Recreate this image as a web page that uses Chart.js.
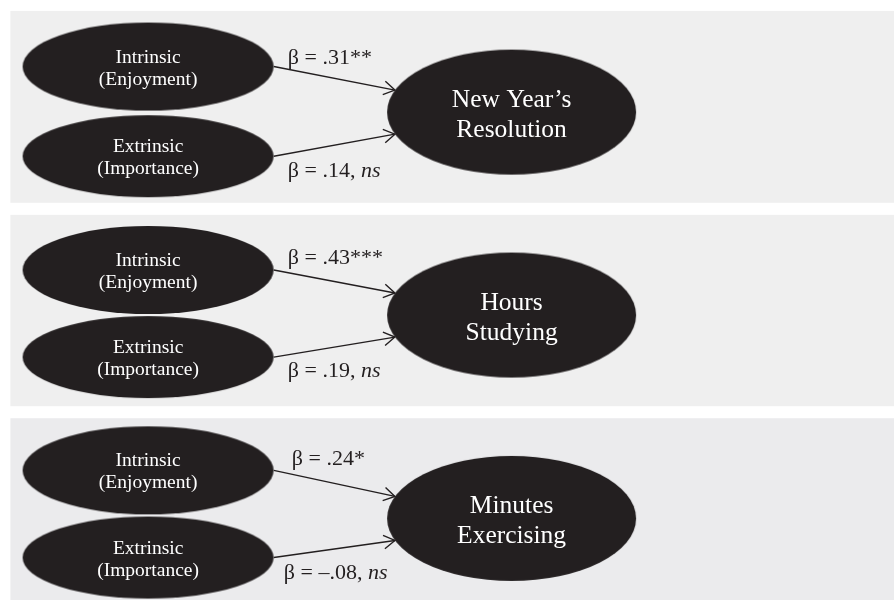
<!DOCTYPE html>
<html>
<head>
<meta charset="utf-8">
<script src="https://cdn.jsdelivr.net/npm/chart.js@4"></script>
<style>
  html, body { margin: 0; padding: 0; background: #fff; }
  canvas { display: block; }
</style>
</head>
<body>
<canvas id="paths" width="894" height="600"></canvas>
<script>
// model data: one panel per outcome, two predictors each
const outcomes = [["New Year’s", "Resolution"], ["Hours", "Studying"], ["Minutes", "Exercising"]];
const predictors = [["Intrinsic", "(Enjoyment)"], ["Extrinsic", "(Importance)"]];
const intrinsicBeta = [0.31, 0.43, 0.24];
const extrinsicBeta = [0.14, 0.19, -0.08];
const intrinsicSig = ["**", "***", "*"];
const extrinsicSig = ["ns", "ns", "ns"];

// layout, in scale units (1 unit = 1 px)
const panelTop = [11.5, 215, 418];
const panelBottom = [203, 406, 600];
const panelFill = ["#efefef", "#efefef", "#ebebed"];
const predX = 148.5, outX = 511.5;
const nodeY = [[67, 156.5], [270, 357], [470, 557]];
const outY = [112.5, 315, 518];
const arrowFromX = 274, arrowToX = 395, arrowSpread = 22;
const labelX = [[288, 288], [288, 288], [292, 284]];
const labelY = [[64, 177], [264, 377], [465, 578]];

const ink = "#231f20";
const serif = "'Liberation Serif', 'Times New Roman', serif";
const lineW = 1.4;
const edge = lineW / 2;   // chart area inset caused by the arrow line width

function ellipseImage(rx, ry) {
  const c = document.createElement('canvas');
  c.width = Math.round(rx * 2) + 2;
  c.height = Math.round(ry * 2) + 2;
  const g = c.getContext('2d');
  g.fillStyle = ink;
  g.beginPath();
  g.ellipse(c.width / 2, c.height / 2, rx, ry, 0, 0, Math.PI * 2);
  g.fill();
  return c;
}
const predImgs = [ellipseImage(125.5, 44), ellipseImage(125.5, 41)];
const outImg = ellipseImage(124.5, 62.5);

function fmtBeta(b) {
  const s = '.' + String(Math.round(Math.abs(b) * 100)).padStart(2, '0');
  return (b < 0 ? '–' : '') + s;
}

const betas = [intrinsicBeta, extrinsicBeta];
const sigs = [intrinsicSig, extrinsicSig];

const predictorPoints = [];
const outcomePoints = [];
const arrowSets = [];
for (let p = 0; p < outcomes.length; p++) {
  outcomePoints.push({ x: outX, y: outY[p] });
  for (let r = 0; r < predictors.length; r++) {
    predictorPoints.push({ x: predX, y: nodeY[p][r] });
    arrowSets.push({
      type: 'scatter',
      showLine: true,
      data: [
        { x: arrowFromX, y: nodeY[p][r] },
        { x: arrowToX, y: outY[p] + (r === 0 ? -arrowSpread : arrowSpread) }
      ],
      borderColor: ink,
      borderWidth: lineW,
      pointRadius: 0,
      panel: p,
      role: r
    });
  }
}

const panelsPlugin = {
  id: 'panels',
  beforeDatasetsDraw(chart) {
    const { ctx, scales: { x, y } } = chart;
    ctx.save();
    panelTop.forEach((t, i) => {
      ctx.fillStyle = panelFill[i];
      const x0 = x.getPixelForValue(11), x1 = chart.width;
      const y0 = y.getPixelForValue(t);
      const y1 = i === panelTop.length - 1 ? chart.height : y.getPixelForValue(panelBottom[i]);
      ctx.fillRect(x0, y0, x1 - x0, y1 - y0);
    });
    ctx.restore();
  },
  afterDatasetsDraw(chart) {
    const { ctx, scales: { x, y } } = chart;
    ctx.save();

    // arrowheads and path coefficients
    chart.data.datasets.forEach((ds, i) => {
      if (ds.panel === undefined) return;
      const pts = chart.getDatasetMeta(i).data;
      const a = pts[0], b = pts[1];
      const ang = Math.atan2(b.y - a.y, b.x - a.x);
      const len = 13, spread = 0.55;
      ctx.strokeStyle = ink;
      ctx.lineWidth = lineW;
      ctx.beginPath();
      ctx.moveTo(b.x - len * Math.cos(ang - spread), b.y - len * Math.sin(ang - spread));
      ctx.lineTo(b.x, b.y);
      ctx.lineTo(b.x - len * Math.cos(ang + spread), b.y - len * Math.sin(ang + spread));
      ctx.stroke();

      const p = ds.panel, r = ds.role;
      const beta = betas[r][p], sig = sigs[r][p];
      let lx = x.getPixelForValue(labelX[p][r]);
      const ly = y.getPixelForValue(labelY[p][r]);
      ctx.fillStyle = ink;
      ctx.textBaseline = 'alphabetic';
      ctx.textAlign = 'left';
      ctx.font = `22px ${serif}`;
      if (sig === 'ns') {
        const head = `β = ${fmtBeta(beta)}, `;
        ctx.fillText(head, lx, ly);
        lx += ctx.measureText(head).width;
        ctx.font = `italic 22px ${serif}`;
        ctx.fillText('ns', lx, ly);
      } else {
        ctx.fillText(`β = ${fmtBeta(beta)}${sig}`, lx, ly);
      }
    });

    // node captions
    ctx.fillStyle = '#ffffff';
    ctx.textAlign = 'center';
    ctx.textBaseline = 'alphabetic';
    chart.getDatasetMeta(0).data.forEach((el, i) => {
      const lines = predictors[i % 2];
      ctx.font = `19.5px ${serif}`;
      ctx.fillText(lines[0], el.x, el.y - 4);
      ctx.fillText(lines[1], el.x, el.y + 18);
    });
    chart.getDatasetMeta(1).data.forEach((el, i) => {
      const lines = outcomes[i];
      ctx.font = `25.5px ${serif}`;
      ctx.fillText(lines[0], el.x, el.y - 5);
      ctx.fillText(lines[1], el.x, el.y + 25);
    });
    ctx.restore();
  }
};

new Chart(document.getElementById('paths'), {
  type: 'scatter',
  data: {
    datasets: [
      {
        label: 'Predictors',
        data: predictorPoints,
        pointStyle: (c) => predImgs[c.dataIndex % 2],
        pointRadius: 0.1,
        pointBorderWidth: 0,
        pointHoverRadius: 0.1,
        pointHoverBorderWidth: 0
      },
      {
        label: 'Outcomes',
        data: outcomePoints,
        pointStyle: outImg,
        pointRadius: 0.1,
        pointBorderWidth: 0,
        pointHoverRadius: 0.1,
        pointHoverBorderWidth: 0
      }
    ].concat(arrowSets)
  },
  options: {
    responsive: false,
    animation: false,
    events: [],
    layout: { padding: 0 },
    scales: {
      // the chart area is inset by the line overflow, so the domain is too
      x: { type: 'linear', min: edge, max: 894 - edge, display: false },
      y: { type: 'linear', min: edge, max: 600 - edge, reverse: true, display: false }
    },
    plugins: {
      legend: { display: false },
      tooltip: { enabled: false }
    }
  },
  plugins: [panelsPlugin]
});
</script>
</body>
</html>
